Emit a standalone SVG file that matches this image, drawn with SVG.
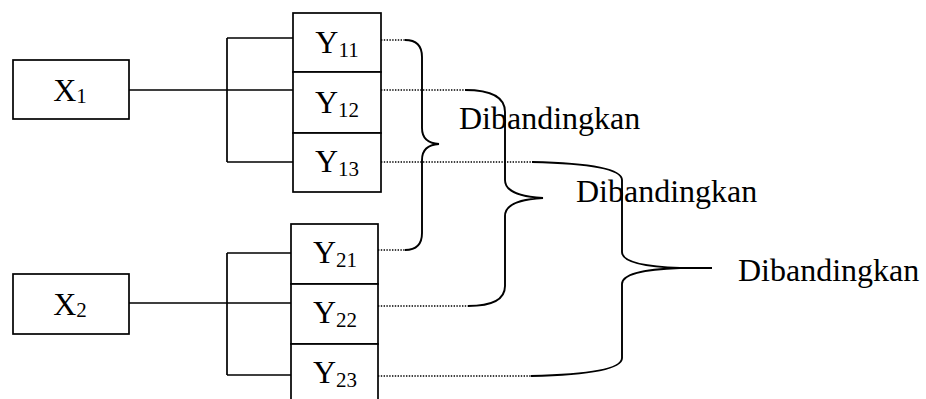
<svg xmlns="http://www.w3.org/2000/svg" width="926" height="399" viewBox="0 0 926 399">
  <style>
    .box { fill: #fff; stroke: #000; stroke-width: 1.7; }
    .wire { fill: none; stroke: #000; stroke-width: 1.7; }
    .dot { fill: none; stroke: #000; stroke-width: 1.4; stroke-dasharray: 1.4 1.4; }
    .brace { fill: none; stroke: #000; stroke-width: 1.9; }
    .lbl { font-family: "Liberation Serif", "Times New Roman", serif; font-size: 32px; fill: #000; }
    .sub { font-size: 21px; }
  </style>

  <!-- connectors: tree links, dotted leaders and comparison braces -->
  <g id="connectors">
    <path class="wire" d="M129,90 H293 M227,38 V162 M227,38 H293 M227,162 H293"/>
    <path class="wire" d="M129,303 H291 M227,253 V375 M227,253 H291 M227,375 H291"/>

    <path class="dot" d="M381,40 H405 M381,90 H465 M381,162 H532"/>
    <path class="dot" d="M378,250 H405 M378,306 H468 M378,376 H531"/>

    <path class="brace" d="M405,40 Q422,40 422,57 L422,128 Q422,143 439,144 Q422,145 422,160 L422,233 Q422,250 405,250"/>
    <path class="brace" d="M465,90 Q505,90 505,112 L505,180 Q505,196 543,198 Q505,200 505,216 L505,286 Q505,306 468,306"/>
    <path class="brace" d="M532,162 Q622,164 622,180 L622,252 Q622,266 680,268 L712,268 M680,268 Q622,270 622,284 L622,358 Q622,374 531,376"/>
  </g>

  <g id="x1">
    <rect class="box" x="13" y="60" width="116" height="59"/>
    <text class="lbl" x="70" y="101" text-anchor="middle">X<tspan class="sub" dy="2">1</tspan></text>
  </g>
  <g id="x2">
    <rect class="box" x="13" y="274" width="116" height="60"/>
    <text class="lbl" x="70" y="315" text-anchor="middle">X<tspan class="sub" dy="2">2</tspan></text>
  </g>

  <g id="y11">
    <rect class="box" x="293" y="13" width="88" height="59"/>
    <text class="lbl" x="337" y="53" text-anchor="middle">Y<tspan class="sub" dy="4">11</tspan></text>
  </g>
  <g id="y12">
    <rect class="box" x="293" y="72" width="88" height="61"/>
    <text class="lbl" x="337" y="113" text-anchor="middle">Y<tspan class="sub" dy="4">12</tspan></text>
  </g>
  <g id="y13">
    <rect class="box" x="293" y="133" width="88" height="59"/>
    <text class="lbl" x="337" y="172" text-anchor="middle">Y<tspan class="sub" dy="4">13</tspan></text>
  </g>

  <g id="y21">
    <rect class="box" x="291" y="224" width="87" height="60"/>
    <text class="lbl" x="335" y="263" text-anchor="middle">Y<tspan class="sub" dy="4">21</tspan></text>
  </g>
  <g id="y22">
    <rect class="box" x="291" y="284" width="87" height="60"/>
    <text class="lbl" x="335" y="323" text-anchor="middle">Y<tspan class="sub" dy="4">22</tspan></text>
  </g>
  <g id="y23">
    <rect class="box" x="291" y="344" width="87" height="62"/>
    <text class="lbl" x="335" y="383" text-anchor="middle">Y<tspan class="sub" dy="4">23</tspan></text>
  </g>

  <g id="cmp1">
    <text class="lbl" x="459" y="129">Dibandingkan</text>
  </g>
  <g id="cmp2">
    <text class="lbl" x="576" y="202">Dibandingkan</text>
  </g>
  <g id="cmp3">
    <text class="lbl" x="738" y="281">Dibandingkan</text>
  </g>
</svg>
